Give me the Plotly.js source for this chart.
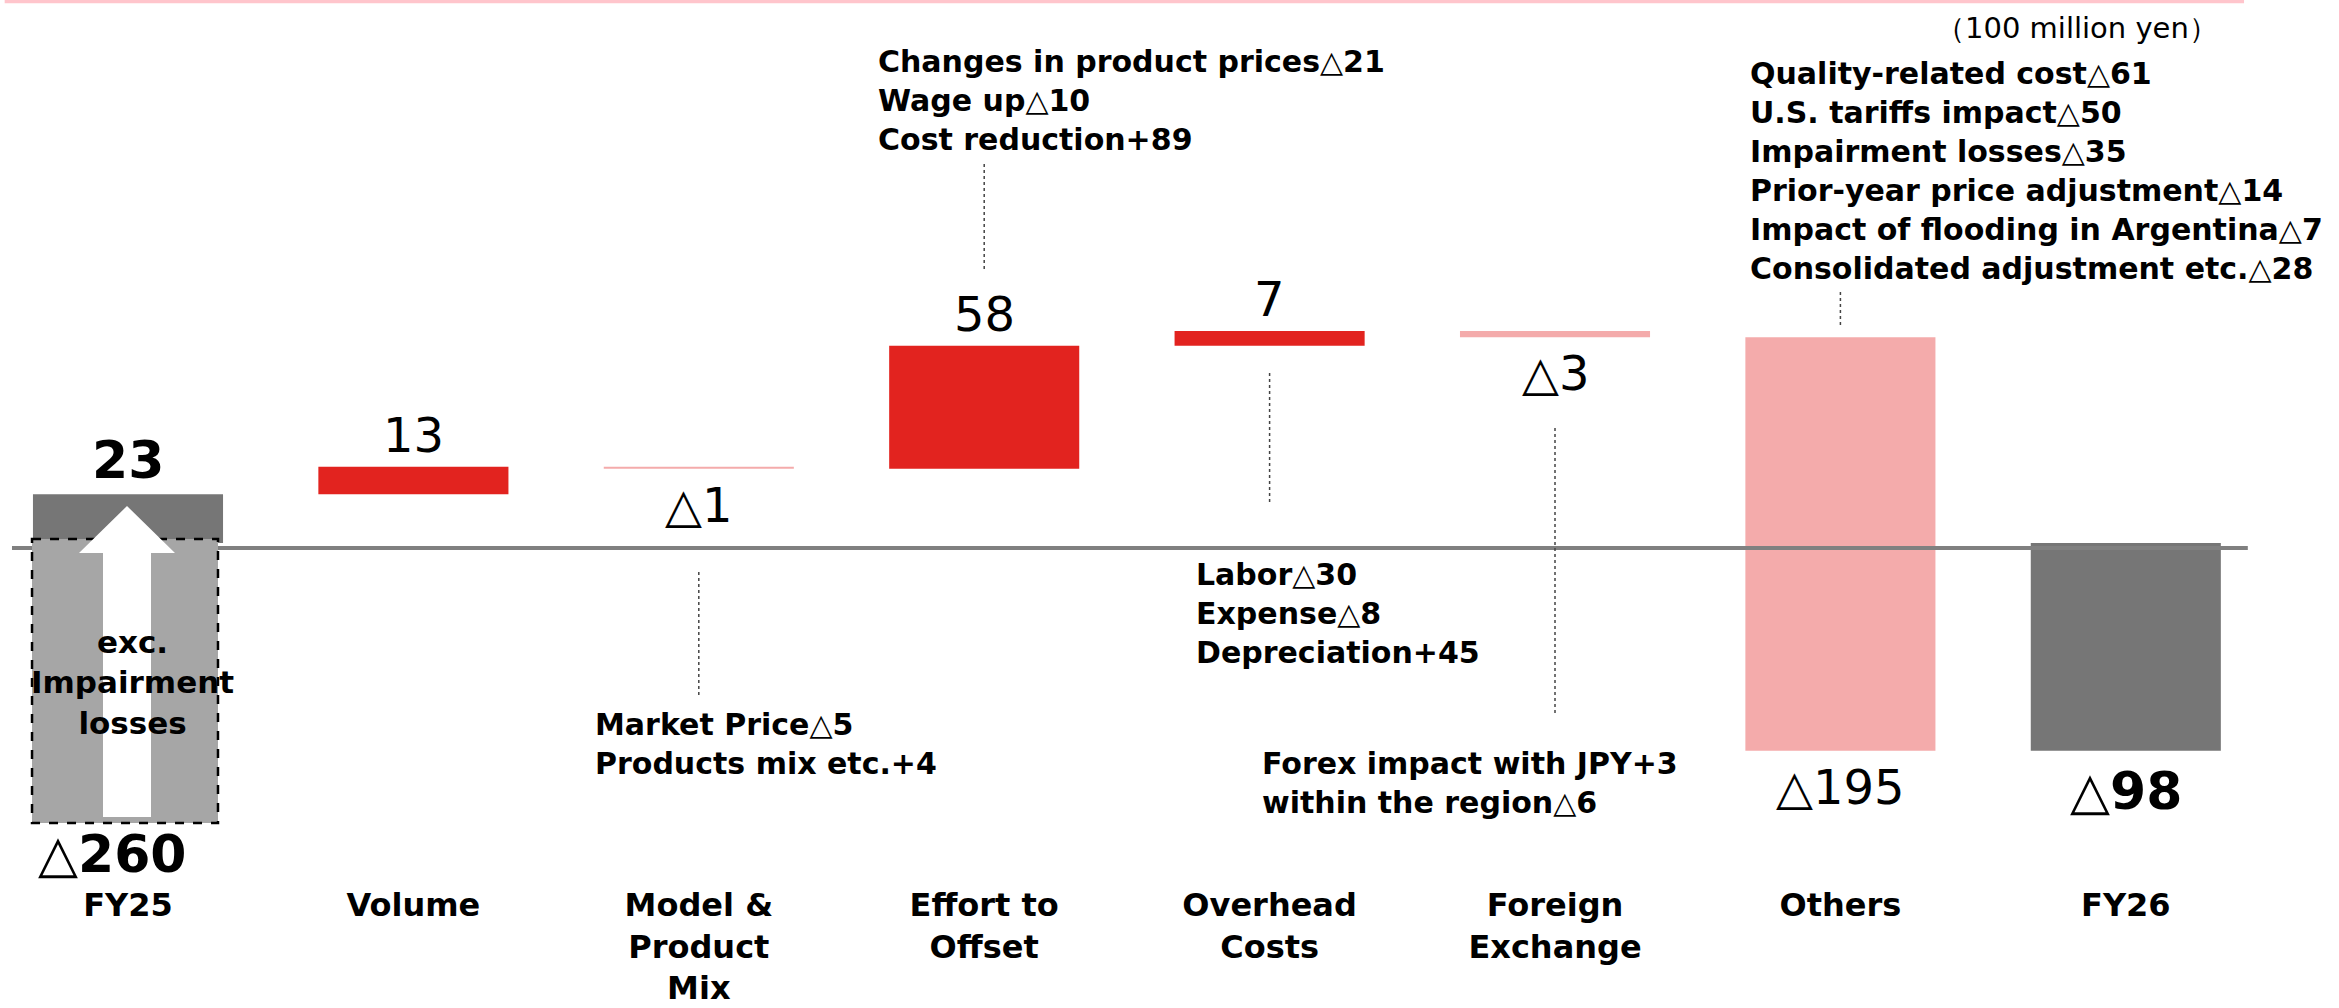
<!DOCTYPE html>
<html><head><meta charset="utf-8">
<script src="https://cdn.plot.ly/plotly-3.0.1.min.js"></script>
<style>html,body{margin:0;padding:0;background:#fff;} #chart{width:2339px;height:1008px;}</style>
</head><body><div id="chart"></div>
<script>
// ---- data ----
const categories = ['FY25', 'Volume', 'Model &<br>Product<br>Mix', 'Effort to<br>Offset', 'Overhead<br>Costs', 'Foreign<br>Exchange', 'Others', 'FY26'];
const measures = ['absolute', 'relative', 'relative', 'relative', 'relative', 'relative', 'relative', 'total'];
const values = [23, 13, -1, 58, 7, -3, -195, 0];   // FY26 total computed by the waterfall
const fy25Reported = -260;                            // FY25 incl. impairment losses
const unitLabel = '（100 million yen）';
const fy25Note = ['exc.', 'Impairment', 'losses'];
const breakdownEffort = ['Changes in product prices△21', 'Wage up△10', 'Cost reduction+89'];
const breakdownMix = ['Market Price△5', 'Products mix etc.+4'];
const breakdownOverhead = ['Labor△30', 'Expense△8', 'Depreciation+45'];
const breakdownForex = ['Forex impact with JPY+3', 'within the region△6'];
const breakdownOthers = ['Quality-related cost△61', 'U.S. tariffs impact△50', 'Impairment losses△35',
  'Prior-year price adjustment△14', 'Impact of flooding in Argentina△7', 'Consolidated adjustment etc.△28'];

// ---- styling ----
const FONT = 'DejaVu Sans, Verdana, sans-serif';
const RED = '#E2231F', PINK = '#F4ABAB', DARK = '#767676', LIGHT = '#A6A6A6';
const xs = categories.map((c, i) => i);
const fmt = v => v < 0 ? '△' + Math.abs(v) : String(v);
const thin = s => s.replace(/△/g, '<span style="font-weight:normal">△</span>');

// running totals to place value labels
let run = 0;
const ends = [], shown = [];
measures.forEach((m, i) => {
  if (m === 'absolute') { run = values[i]; ends.push(run); shown.push(values[i]); }
  else if (m === 'total') { ends.push(run); shown.push(run); }
  else { run += values[i]; ends.push(run); shown.push(values[i]); }
});

const trace = {
  type: 'waterfall',
  x: xs,
  y: values,
  measure: measures,
  width: 0.666,
  increasing: {marker: {color: RED}},
  decreasing: {marker: {color: PINK}},
  totals: {marker: {color: DARK}},
  connector: {visible: false},
  textinfo: 'none',
  hoverinfo: 'skip'
};

const annotations = [];
// value labels
shown.forEach((v, i) => {
  const isTotal = measures[i] !== 'relative';
  const up = v >= 0;
  annotations.push({
    x: xs[i], y: ends[i], xref: 'x', yref: 'y',
    text: isTotal ? thin(fmt(v)) : fmt(v),
    showarrow: false, xanchor: 'center', yanchor: up ? 'bottom' : 'top',
    yshift: up ? 2 : (isTotal ? -8 : -6),
    font: {family: FONT, size: isTotal ? 52 : 48, color: '#000', weight: isTotal ? 'bold' : 'normal'}
  });
});
// FY25 reported value
annotations.push({
  x: -0.056, y: -146.8, xref: 'x', yref: 'y', text: thin(fmt(fy25Reported)),
  showarrow: false, xanchor: 'center', yanchor: 'middle',
  font: {family: FONT, size: 52, color: '#000', weight: 'bold'}
});
// note inside FY25 box
annotations.push({
  x: 0.015, y: -66.0, xref: 'x', yref: 'y', text: fy25Note.join('<br>'),
  showarrow: false, xanchor: 'center', yanchor: 'middle', align: 'center',
  font: {family: FONT, size: 31, color: '#000', weight: 'bold'}
});
// unit label
annotations.push({
  x: 6.828, y: 242.9, xref: 'x', yref: 'y', text: unitLabel,
  showarrow: false, xanchor: 'center', yanchor: 'middle',
  font: {family: FONT, size: 29, color: '#000'}
});
// breakdown blocks
const blocks = [
  {lines: breakdownEffort, x: 2.6206, y: 208.8},
  {lines: breakdownOthers, x: 5.6756, y: 175.5},
  {lines: breakdownOverhead, x: 3.7347, y: -33.4},
  {lines: breakdownMix, x: 1.6291, y: -94.8},
  {lines: breakdownForex, x: 3.966, y: -113.0}
];
blocks.forEach(b => annotations.push({
  x: b.x, y: b.y, xref: 'x', yref: 'y', text: thin(b.lines.join('<br>')),
  showarrow: false, xanchor: 'left', yanchor: 'middle', align: 'left',
  font: {family: FONT, size: 30, color: '#000', weight: 'bold'}
}));

const shapes = [];
// top pink rule
shapes.push({type: 'line', xref: 'paper', yref: 'paper', x0: 0.002, x1: 0.9594, y0: 0.9983, y1: 0.9983,
  line: {color: '#FFC5CC', width: 3.5}, layer: 'above'});
// baseline
shapes.push({type: 'line', xref: 'x', yref: 'y', x0: -0.4065, x1: 7.4275, y0: -2.36, y1: -2.36,
  line: {color: '#808080', width: 4}, layer: 'above'});
// FY25 dashed box
shapes.push({type: 'rect', xref: 'x', yref: 'y', x0: -0.3363, x1: 0.3153, y0: 1.89, y1: -132.1,
  fillcolor: LIGHT, line: {color: '#000', width: 2.5, dash: 'dash'}, layer: 'above'});
// white arrow
shapes.push({type: 'path', xref: 'x', yref: 'y',
  path: 'M -0.0035,17.45 L 0.1647,-4.72 L 0.0806,-4.72 L 0.0806,-129.2 L -0.0876,-129.2 L -0.0876,-4.72 L -0.1717,-4.72 Z',
  fillcolor: '#FFFFFF', line: {width: 0}, layer: 'above'});
// dotted leaders
const connectors = [
  {x: xs[3], y0: 178.8, y1: 129.2},
  {x: xs[2], y0: -13.7, y1: -71.7},
  {x: xs[4], y0: 80.2, y1: 17.9},
  {x: xs[5], y0: 54.2, y1: -81.6},
  {x: xs[6], y0: 118.4, y1: 101.4}
];
connectors.forEach(c => shapes.push({type: 'line', xref: 'x', yref: 'y', x0: c.x, x1: c.x, y0: c.y0, y1: c.y1,
  line: {color: '#444', width: 1.5, dash: 'dot'}, layer: 'above'}));

const layout = {
  width: 2339, height: 1008,
  margin: {l: 0, r: 0, t: 0, b: 123, pad: 0},
  paper_bgcolor: '#fff', plot_bgcolor: '#fff',
  showlegend: false,
  xaxis: {type: 'linear', range: [-0.4485, 7.747], tickvals: xs, ticktext: categories,
    showgrid: false, zeroline: false, showline: false, ticks: '', ticklabelstandoff: -2,
    tickfont: {family: FONT, size: 32, color: '#000', weight: 'bold'}, fixedrange: true},
  yaxis: {range: [-161.32, 256.13], visible: false, showgrid: false, zeroline: false, fixedrange: true},
  annotations: annotations,
  shapes: shapes
};

Plotly.newPlot('chart', [trace], layout, {displayModeBar: false, staticPlot: true});
</script>
</body></html>
